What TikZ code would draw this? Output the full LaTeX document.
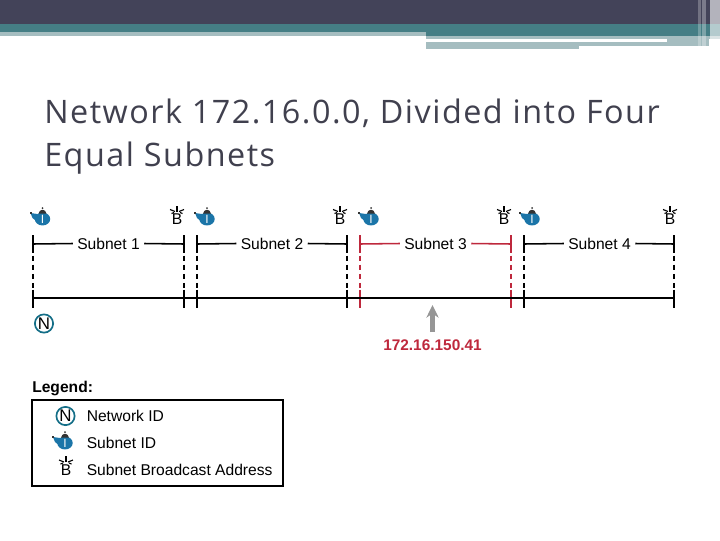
\documentclass[tikz,border=0pt]{standalone}
\usepackage{fontspec}
\setmainfont{Liberation Sans}
\newfontfamily\titlefont[LetterSpace=4.6]{Open Sans}
\definecolor{HeadDark} {RGB}{67,67,89}
\definecolor{HeadTeal} {RGB}{69,126,133}
\definecolor{HeadLight}{RGB}{165,189,192}
\definecolor{TitleInk} {RGB}{64,64,78}
\definecolor{IconBlue} {RGB}{27,117,168}
\definecolor{NetTeal}  {RGB}{20,110,135}
\definecolor{CalloutRed}{RGB}{190,40,60}
\definecolor{ArrowGray}{RGB}{150,150,150}
\usetikzlibrary{arrows.meta,positioning,calc,shapes.geometric}
\tikzset{
  tick/.style={line width=1.1pt},
  span/.style={line width=1.1pt},
  titleline/.style={anchor=base west,inner sep=0pt,text=TitleInk,font=\titlefont\fontsize{23}{30}\selectfont},
  spanlabel/.style={font=\fontsize{11.1}{12}\selectfont,inner sep=3pt},
  legendlabel/.style={font=\fontsize{11.1}{12}\selectfont,anchor=west,inner sep=0pt},
  netid/.style={circle,draw=NetTeal,line width=1.2pt,inner sep=0pt,minimum size=13pt,
        font=\fontsize{12}{12}\selectfont},
  subid/.style={ellipse,fill=IconBlue,text=white,inner sep=0pt,minimum width=11pt,minimum height=9.2pt,
        font=\fontsize{8.5}{9}\selectfont},
  bcast/.style={inner sep=0pt,font=\fontsize{11.1}{12}\selectfont},
  pics/subicon/.style={code={
    \fill[IconBlue] (-5,-5) -- (-12,-6) -- (-10,-1) -- (-5,3) -- cycle;
    \node[subid] (-i) at (0,0) {I};
    \fill[black!80] (-4,-5.5) .. controls (-3,-10.5) and (3,-10.5) .. (4,-5.5) -- cycle;
    \fill[black!80] (0,-11) circle (1);
    \fill[black!80] (-13,-7.5) rectangle (-11,-5);
  }},
  pics/bicon/.style={code={
    \node[bcast] (-b) at (0,0) {B};
    \foreach \dx/\dy/\ex/\ey in {0/-8/0/-14, -2/-8/-7/-10, 2/-8/7/-10, -3/-7/-5.5/-6, 3/-7/5.5/-6}{
      \draw[line width=0.8pt] (\dx,\dy) -- (\ex,\ey);
    }
  }}
}
\begin{document}
\begin{tikzpicture}[x=0.025cm,y=-0.025cm]
  \useasboundingbox (0,0) rectangle (720,540);
  %% Header bands
  \fill[HeadDark] (0,0) rectangle (720,24);
  \fill[HeadTeal] (0,24) rectangle (720,32);
  \fill[HeadTeal] (426,32) rectangle (720,36);
  \fill[HeadLight] (0,32) rectangle (426,36);
  \fill[HeadLight] (426,36) rectangle (720,39);
  \fill[HeadLight] (426,42) rectangle (667,46);
  \fill[HeadLight] (426,46) rectangle (579,49);
  \fill[HeadLight] (667,39) rectangle (709,46);
  \fill[white,opacity=0.25] (698,0) rectangle (701,46);
  \fill[white,opacity=0.3] (702,0) rectangle (706,46);
  \fill[white,opacity=0.6] (710,0) rectangle (720,49);
  %% Title
  \node[titleline] (line1) at (44,123) {Network 172.16.0.0, Divided into Four};
  \node[titleline] (line2) at (44,166) {Equal Subnets};
  %% Subnet spans
  \foreach \n/\xa/\xb/\xm/\xi/\xo/\c in {
      1/33/184/108.5/42.5/177/black,
      2/197/347/272/207/340/black,
      3/360/511/435.5/371/504/CalloutRed,
      4/524/674/599.5/532/670/black}{
    \node[spanlabel] (sub\n) at (\xm,243.5) {Subnet \n};
    \coordinate (top\n a) at (\xa,244);
    \coordinate (top\n b) at (\xb,244);
    \coordinate (low\n a) at (\xa,298);
    \coordinate (low\n b) at (\xb,298);
    \draw[span,\c] (top\n a) -- (sub\n.west);
    \draw[span,\c] (sub\n.east) -- (top\n b);
    \foreach \e in {a,b}{
      \draw[tick,\c] ($(top\n\e)+(0,-9)$) -- ($(top\n\e)+(0,9)$);
      \draw[tick,\c,dash pattern=on 4pt off 2.5pt] ($(top\n\e)+(0,11.5)$) -- ($(low\n\e)+(0,-10.5)$);
      \draw[tick,\c] ($(low\n\e)+(0,-8.5)$) -- ($(low\n\e)+(0,9.5)$);
    }
    \pic (idicon\n) at (\xi,219) {subicon};
    \pic (brd\n) at (\xo,219.5) {bicon};
  }
  \draw[span] (low1a) -- (low4b);
  %% Network marker
  \node[netid] (net) at (44,323.5) {N};
  %% Address pointer
  \node[text=CalloutRed,font=\bfseries\fontsize{10.95}{12}\selectfont,inner sep=0pt] (addr) at (432.5,345) {172.16.150.41};
  \coordinate (hit) at (432.5,305);
  \draw[-{Stealth[length=9pt,width=8.7pt]},line width=3pt,ArrowGray,shorten <=5pt] (addr.north) -- (hit);
  %% Legend
  \node[anchor=west,inner sep=0pt,font=\bfseries\fontsize{11.1}{12}\selectfont] (legend) at (32,388) {Legend:};
  \node[draw,line width=1.3pt,outer sep=0pt,minimum width=6.275cm,minimum height=2.15cm,inner sep=0pt,anchor=north west] (legbox) at (32.3,400) {};
  \node[netid] (legnet) at (65.5,416) {N};
  \pic (legid) at (65,443) {subicon};
  \pic (legbrd) at (66,470) {bicon};
  \node[legendlabel] (t1) at (86.5,416) {Network ID};
  \node[legendlabel] (t2) at (86.5,443) {Subnet ID};
  \node[legendlabel] (t3) at (86.5,470) {Subnet Broadcast Address};
\end{tikzpicture}
\end{document}
